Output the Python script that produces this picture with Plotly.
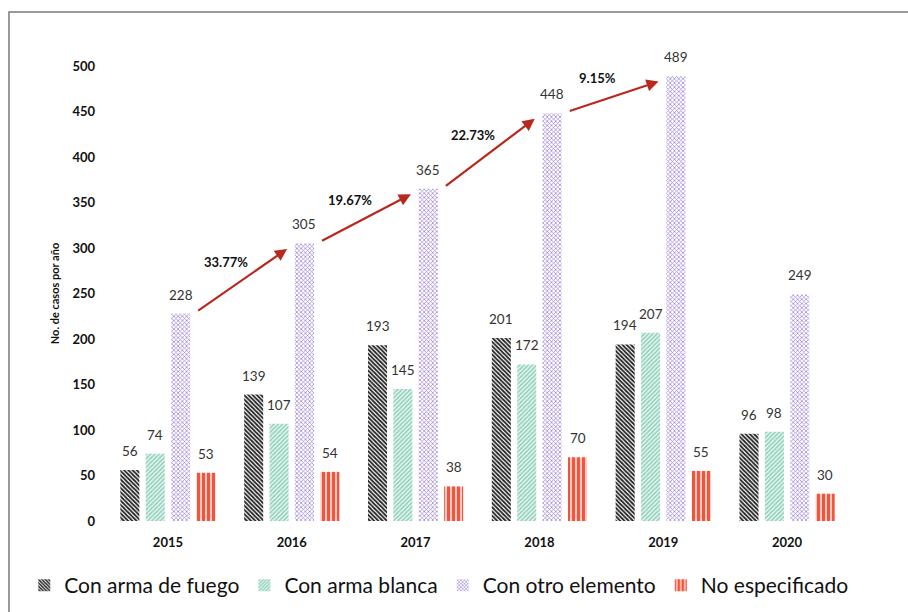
import plotly.graph_objects as go

# Casos por año según el medio utilizado
years = ["2015", "2016", "2017", "2018", "2019", "2020"]
arma_fuego = [56, 139, 193, 201, 194, 96]
arma_blanca = [74, 107, 145, 172, 207, 98]
otro_elemento = [228, 305, 365, 448, 489, 249]
no_especificado = [53, 54, 38, 70, 55, 30]

# Variación anual de "Con otro elemento" (2015-2019)
variaciones = ["33.77%", "19.67%", "22.73%", "9.15%"]

FONT = "Lato"

series = [
    ("Con arma de fuego", arma_fuego, dict(shape="\\", fgcolor="#222222", bgcolor="#ffffff", size=3, solidity=0.6)),
    ("Con arma blanca", arma_blanca, dict(shape="/", fgcolor="#86cdb6", bgcolor="#e6f5ef", size=3, solidity=0.45)),
    ("Con otro elemento", otro_elemento, dict(shape="x", fgcolor="#9a80d4", bgcolor="#ffffff", size=3, solidity=0.42)),
    ("No especificado", no_especificado, dict(shape="|", fgcolor="#f2543c", bgcolor="#ffffff", size=5, solidity=0.72)),
]

fig = go.Figure()
for name, vals, pat in series:
    fig.add_trace(go.Bar(
        name=name, x=years, y=vals,
        marker=dict(color=pat["bgcolor"], pattern=dict(fillmode="replace", **pat), line=dict(width=0)),
        cliponaxis=False,
    ))

bargap = 0.18
n_series = len(series)
slot = (1 - bargap) / n_series

# Etiquetas de valor sobre cada barra
annotations = []
for k, (name, vals, pat) in enumerate(series):
    off = (k - (n_series - 1) / 2) * slot
    for i, v in enumerate(vals):
        annotations.append(dict(
            x=i + off, y=v, xref="x", yref="y", text=str(v), showarrow=False,
            yanchor="bottom", yshift=9,
            font=dict(family=FONT, size=13.5, color="#333333"),
        ))

# Flechas de crecimiento entre columnas de "Con otro elemento"
purple_off = (2 - (n_series - 1) / 2) * slot
for i, lab in enumerate(variaciones):
    x0 = i + purple_off + 0.13
    y0 = otro_elemento[i] + 2
    x1 = i + 1 + purple_off - 0.14
    y1 = otro_elemento[i + 1] - 6
    annotations.append(dict(
        x=x1, y=y1, ax=x0, ay=y0, xref="x", yref="y", axref="x", ayref="y",
        text="", showarrow=True, arrowhead=2, arrowsize=1.1, arrowwidth=2.2,
        arrowcolor="#b8281f",
    ))
    annotations.append(dict(
        x=(x0 + x1) / 2 - 0.13, y=(y0 + y1) / 2 + 20, xref="x", yref="y",
        text=f"<b>{lab}</b>", showarrow=False,
        font=dict(family=FONT, size=13, color="#111111"),
    ))

fig.update_layout(
    width=908, height=612,
    margin=dict(l=106, r=59, t=66, b=91, autoexpand=False),
    paper_bgcolor="white", plot_bgcolor="white",
    barmode="group", bargap=bargap, bargroupgap=0.25,
    font=dict(family=FONT, color="#111111"),
    annotations=annotations,
    showlegend=True,
    legend=dict(
        orientation="h", x=-0.11, xanchor="left", y=-0.097, yanchor="top",
        font=dict(family=FONT, size=21, color="#111111"),
        itemwidth=30, tracegroupgap=0,
    ),
    shapes=[dict(
        type="rect", xref="paper", yref="paper",
        x0=-0.1306, x1=1.12, y0=-0.21, y1=1.1187,
        line=dict(color="#7a7a7a", width=1.5), fillcolor="rgba(0,0,0,0)",
    )],
)

fig.update_xaxes(
    type="category", showgrid=False, showline=False, zeroline=False,
    tickfont=dict(family=FONT, size=13, color="#111111", weight="bold"),
    ticklabelstandoff=12,
)
fig.update_yaxes(
    range=[0, 500], dtick=50, showgrid=False, showline=False, zeroline=False,
    tickfont=dict(family=FONT, size=13, color="#111111", weight="bold"),
    ticklabelstandoff=10,
    title=dict(text="<b>No. de casos por año</b>", font=dict(family=FONT, size=11, color="#111111"), standoff=10),
)

fig.write_html("out.html")
